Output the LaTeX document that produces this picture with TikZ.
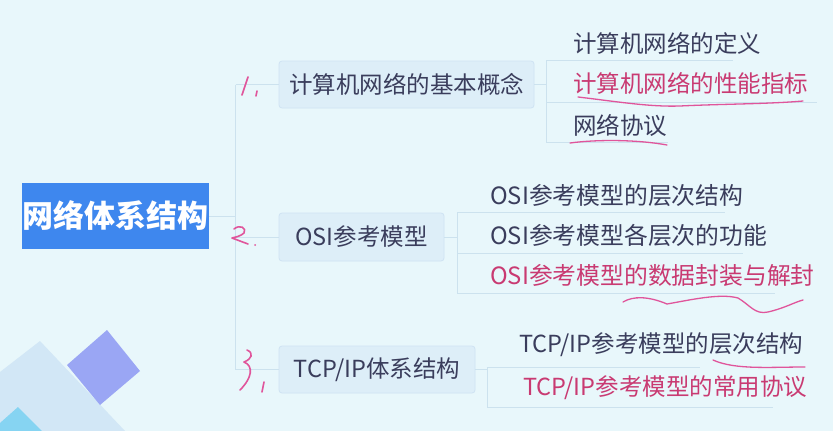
\documentclass[tikz,border=0pt]{standalone}
\usepackage{fontspec}
\setmainfont{Noto Sans CJK SC}
\definecolor{bgc}{HTML}{E8F7FB}
\definecolor{rootblue}{HTML}{3E87EE}
\definecolor{topicfill}{HTML}{DDEEF8}
\definecolor{topicdraw}{HTML}{CFE3F3}
\definecolor{darktext}{HTML}{3A3D5C}
\definecolor{pinktext}{HTML}{C93A72}
\definecolor{pen}{HTML}{E0559B}
\definecolor{frameline}{HTML}{CCE2EE}
\definecolor{dpurple}{HTML}{9AA6F4}
\definecolor{dpale}{HTML}{D2E7F6}
\definecolor{dcyan}{HTML}{86D4F2}
\tikzset{
  rootbox/.style={fill=rootblue, text=white, font=\fontsize{31}{34}\selectfont\bfseries,
    minimum width=187, minimum height=66, inner sep=0},
  topic/.style={fill=topicfill, draw=topicdraw, line width=0.8pt, rounded corners=3pt,
    text=darktext, font=\fontsize{23.5}{26}\selectfont, inner sep=0},
  leaf/.style={anchor=west, inner sep=0, text=darktext, font=\fontsize{23.5}{26}\selectfont},
  leafpink/.style={leaf, text=pinktext},
  conn/.style={draw=frameline, line width=1pt},
  ink/.style={draw=pen, line width=1.6pt, line cap=round, line join=round}
}
\begin{document}
\begin{tikzpicture}[x=1pt,y=-1pt]
\fill[bgc] (0,0) rectangle (833,431);
\useasboundingbox (0,0) rectangle (833,431);

% decorative diamonds
\fill[dpale] (40,341) -- (125,431) -- (0,431) -- (0,372) -- cycle;
\fill[dcyan] (18,407) -- (42,431) -- (0,431) -- (0,423) -- cycle;
\fill[dpurple] (107,330) -- (140,371) -- (100,405) -- (67,365) -- cycle;

% root and topics
\node[rootbox] (root) at (115.5,216) {网络体系结构};
\node[topic, minimum width=255, minimum height=47] (t1) at (406.5,84.5) {计算机网络的基本概念};
\node[topic, minimum width=165, minimum height=48] (t2) at (361.5,237) {OSI参考模型};
\node[topic, minimum width=196, minimum height=47] (t3) at (377,369.5) {TCP/IP体系结构};

% trunk
\coordinate (j)  at (235.5,216);
\coordinate (j1) at (235.5,84.5);
\coordinate (j2) at (235.5,237);
\coordinate (j3) at (235.5,369.5);
\draw[conn] (root.east) -- (j);
\draw[conn] (j1) -- (j3);
\draw[conn] (j1) -- (t1.west);
\draw[conn] (j2) -- (t2.west);
\draw[conn] (j3) -- (t3.west);

% leaves of topic 1
\node[leaf] (c11) at (573,43) {计算机网络的定义};
\node[leafpink] (c12) at (573,83) {计算机网络的性能指标};
\node[leaf] (c13) at (573,125) {网络协议};
\coordinate (k1) at (546,84.5);
\draw[conn] (t1.east) -- (k1);
\draw[conn] (546,60) -- (546,142);
\draw[conn] (546,60) -- (733,60);
\draw[conn] (546,102) -- (817,102);
\draw[conn] (546,142) -- (668,142);

% leaves of topic 2
\node[leaf, font=\fontsize{23.8}{27}\selectfont] (c21) at (490,196) {OSI参考模型的层次结构};
\node[leaf, font=\fontsize{23.8}{27}\selectfont] (c22) at (490,235) {OSI参考模型各层次的功能};
\node[leafpink, font=\fontsize{23.8}{27}\selectfont] (c23) at (490,275) {OSI参考模型的数据封装与解封};
\coordinate (k2) at (457,237);
\draw[conn] (t2.east) -- (k2);
\draw[conn] (457,212) -- (457,293);
\draw[conn] (457,212) -- (725,212);
\draw[conn] (457,253) -- (743,253);
\draw[conn] (457,293) -- (775,293);

% leaves of topic 3
\node[leaf] (c31) at (519,345) {TCP/IP参考模型的层次结构};
\node[leafpink] (c32) at (523,388) {TCP/IP参考模型的常用协议};
\coordinate (k3) at (487,369.5);
\draw[conn] (t3.east) -- (k3);
\draw[conn] (487,367) -- (487,407);
\draw[conn] (487,367) -- (700,367);
\draw[conn] (487,407) -- (773,407);

% handwritten marks
\draw[ink] (248,77) -- (242,95);
\draw[ink] (257,91) -- (256,96);
\draw[ink] (234,229) .. controls (240,224) and (247,228) .. (244,233)
  .. controls (241,236) and (236,237) .. (232,238) -- (248,244);
\fill[pen] (255,245) circle (1pt);
\draw[ink] (247,350) .. controls (254,353) and (252,359) .. (244,362)
  .. controls (254,366) and (252,378) .. (240,390);
\draw[ink] (264,382) -- (262,392);
% underlines
\draw[ink, line width=1.3pt] (578,97) .. controls (620,102) and (650,107) .. (680,106)
  .. controls (720,104) and (770,104) .. (803,101);
\draw[ink, line width=1.3pt] (570,143) .. controls (600,139) and (640,140) .. (667,145);
\draw[ink, line width=1.3pt] (623,302) .. controls (633,296) and (648,296) .. (667,304)
  .. controls (690,300) and (720,293) .. (738,298)
  .. controls (750,305) and (755,315) .. (768,312)
  .. controls (785,308) and (795,302) .. (803,300);
\draw[ink, line width=1.3pt] (713,360) .. controls (735,370) and (770,367) .. (805,367);
\end{tikzpicture}
\end{document}
